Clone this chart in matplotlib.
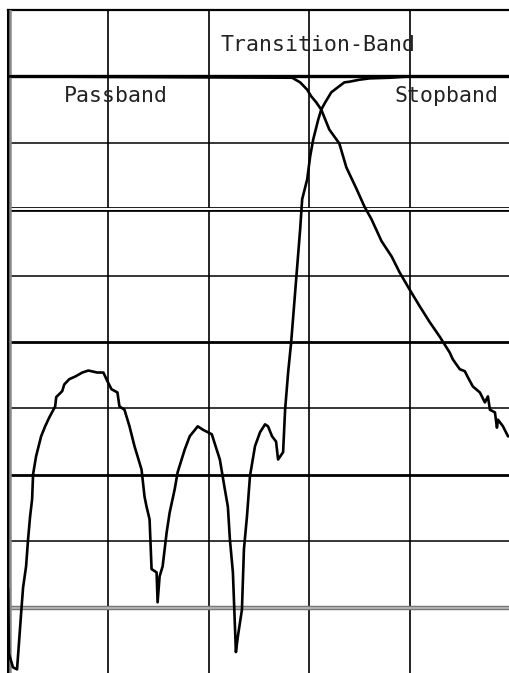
import numpy as np
import matplotlib
matplotlib.use("Agg")
import matplotlib.pyplot as plt

# frequency in screen divisions, level in dB (10 dB/div, 0 dB reference line)
s11_freq = [0.00, 0.01, 0.05, 0.09, 0.11, 0.13, 0.15, 0.18, 0.20, 0.22, 0.24, 0.25,
            0.28, 0.33, 0.37, 0.41, 0.47, 0.48, 0.54, 0.56, 0.61, 0.67, 0.74, 0.80,
            0.89, 0.95, 0.99, 1.03, 1.09, 1.11, 1.16, 1.21, 1.26, 1.33, 1.36, 1.38,
            1.41, 1.43, 1.48, 1.49, 1.51, 1.54, 1.58, 1.61, 1.66, 1.69, 1.76, 1.81,
            1.89, 1.94, 2.03, 2.11, 2.16, 2.19, 2.21, 2.24, 2.27, 2.29, 2.33, 2.35,
            2.38, 2.41, 2.46, 2.51, 2.56, 2.59, 2.63, 2.67, 2.69, 2.74, 2.76, 2.79,
            2.82, 2.87, 2.91, 2.93, 2.98, 3.01, 3.04, 3.09, 3.12, 3.16, 3.22, 3.28,
            3.35, 3.40, 3.50, 3.60, 3.80, 4.00, 5.00]
s11_db = [-77.3, -87.0, -89.0, -89.3, -85.2, -81.0, -77.0, -73.8, -69.7, -66.3, -63.7, -59.9,
          -57.2, -54.2, -52.7, -51.4, -49.7, -48.3, -47.4, -46.4, -45.6, -45.2, -44.6, -44.3,
          -44.6, -44.6, -45.9, -47.1, -47.6, -49.7, -50.2, -52.7, -55.7, -59.2, -63.3, -64.8,
          -66.7, -74.2, -74.7, -79.2, -75.3, -73.8, -68.7, -65.7, -62.2, -59.6, -56.2, -54.2,
          -52.7, -53.2, -53.9, -57.7, -62.2, -64.8, -69.7, -74.7, -86.7, -84.3, -80.3, -71.2,
          -66.3, -60.2, -55.7, -53.6, -52.4, -52.7, -54.2, -55.0, -57.7, -56.6, -50.2, -44.6,
          -40.1, -30.6, -23.0, -18.5, -15.5, -12.0, -9.5, -6.5, -5.0, -3.9, -2.4, -1.7,
          -0.9, -0.8, -0.5, -0.3, -0.2, 0.0, 0.0]

s21_freq = [0.00, 2.83, 2.91, 2.98, 3.02, 3.07, 3.12, 3.20, 3.30, 3.37, 3.47, 3.55,
            3.62, 3.72, 3.82, 3.90, 4.00, 4.10, 4.20, 4.30, 4.40, 4.43, 4.50, 4.55,
            4.58, 4.63, 4.70, 4.75, 4.78, 4.80, 4.85, 4.87, 4.88, 4.93, 4.98, 5.00]
s21_db = [0.0, -0.2, -0.9, -2.0, -3.0, -3.9, -5.0, -8.0, -10.1, -13.7, -16.9, -19.6,
          -21.5, -24.8, -27.1, -29.5, -32.1, -34.6, -37.0, -39.2, -41.6, -42.6, -44.1, -44.4,
          -45.3, -46.7, -47.6, -49.1, -48.2, -50.2, -50.6, -52.9, -51.7, -52.7, -54.2, -54.2]

band_labels = ["Passband", "Transition-Band", "Stopband"]

fig = plt.figure(figsize=(5.10, 6.73), dpi=100)
ax = fig.add_axes([8 / 510, 0, 502 / 510, 663 / 673])
ax.set_xlim(0, 5)
ax.set_ylim(-89.85, 10)
ax.axis("off")

# graticule
for xv in [1, 2, 3, 4]:
    ax.axvline(xv, color="black", lw=1.2, zorder=1)
ax.axhline(10, color="black", lw=1.6, clip_on=False, zorder=1)
ax.axhline(0, color="black", lw=2.4, zorder=1)
for yv in [-10, -30, -50, -70]:
    ax.axhline(yv, color="black", lw=1.1, zorder=1)
for yv in [-40, -60]:
    ax.axhline(yv, color="black", lw=2.0, zorder=1)
# double lines
ax.axhline(-20, color="black", lw=3.4, zorder=1)
ax.axhline(-20, color="white", lw=1.4, zorder=1)
ax.axhline(-80, color="#777777", lw=3.2, zorder=1)
ax.axhline(-80, color="#bbbbbb", lw=1.2, zorder=1)
# left border
ax.axvline(0, color="black", lw=2.2, clip_on=False, zorder=3)
ax.axvline(0.022, color="#888888", lw=1.8, zorder=3)

ax.plot(s11_freq, s11_db, color="black", lw=1.9, zorder=4)
ax.plot(s21_freq, s21_db, color="black", lw=1.9, zorder=4)

font = dict(family="DejaVu Sans Mono", fontsize=15.5, color="#222222", va="baseline", ha="center")
ax.text(1.07, -3.8, band_labels[0], **font)
ax.text(3.09, 3.8, band_labels[1], **font)
ax.text(4.37, -3.8, band_labels[2], **font)

fig.savefig("out.png", dpi=100)
